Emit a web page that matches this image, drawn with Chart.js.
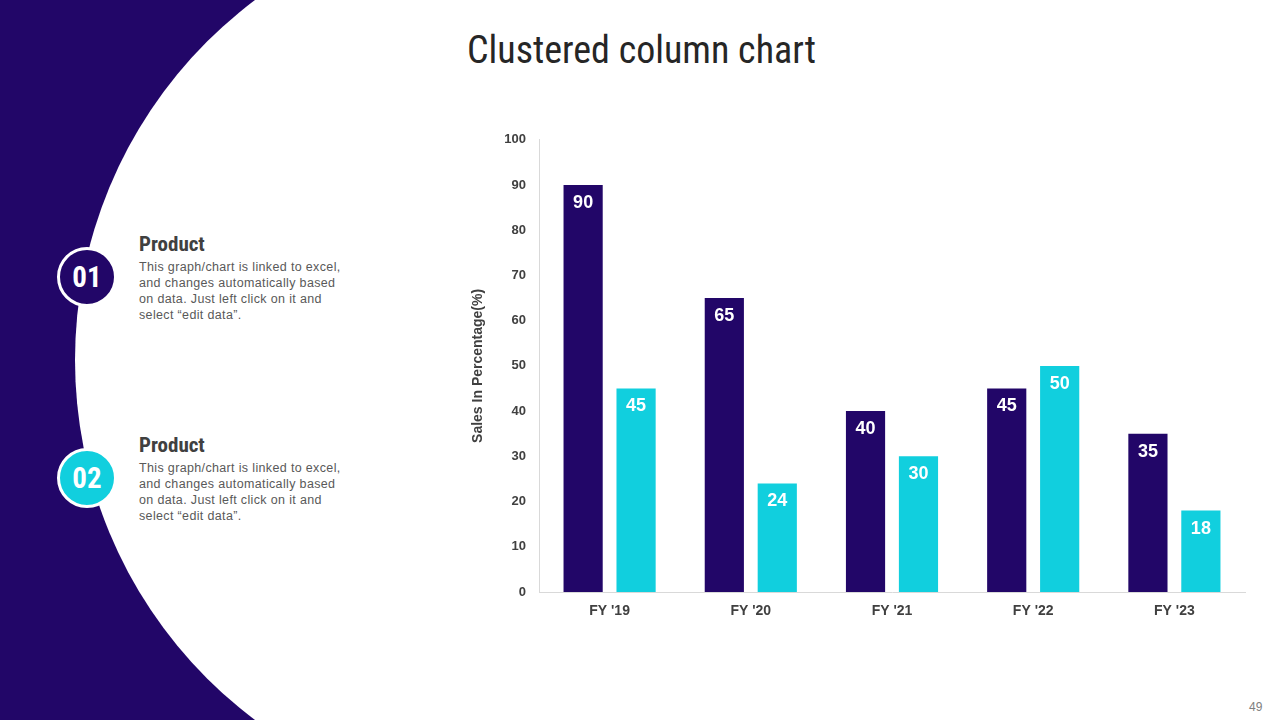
<!DOCTYPE html>
<html>
<head>
<meta charset="utf-8">
<script src="https://cdn.jsdelivr.net/npm/chart.js@4"></script>
<style>
  html, body { margin: 0; padding: 0; }
  body { width: 1280px; height: 720px; position: relative; overflow: hidden; background: #fff;
         font-family: "Liberation Sans", Arial, sans-serif; }
  .band { position: absolute; left: 0; top: 0; width: 300px; height: 720px; background: #220668; }
  .hole { position: absolute; left: 75px; top: -90px; width: 900px; height: 900px; border-radius: 50%; background: #fff; }
  .title { position: absolute; left: 467px; top: 28px; font-family: "Roboto Condensed", "Liberation Sans Narrow", Arial, sans-serif;
           font-size: 38px; color: #262626; white-space: nowrap; }
  .badge { position: absolute; width: 54px; height: 54px; border-radius: 50%; border: 3px solid #fff;
           color: #fff; font-family: "Roboto Condensed", "Liberation Sans Narrow", Arial, sans-serif; font-weight: bold; font-size: 29px;
           display: flex; align-items: center; justify-content: center; }
  .item { position: absolute; left: 139px; width: 230px; }
  .item h3 { margin: 0 0 4px 0; font-family: "Roboto Condensed", "Liberation Sans Narrow", Arial, sans-serif; font-weight: bold;
             font-size: 21px; color: #404040; line-height: 22px; }
  .item p { margin: 0; font-size: 12.5px; letter-spacing: 0.35px; line-height: 16px; color: #595959; white-space: nowrap; }
  .page { position: absolute; left: 1249px; top: 700px; font-size: 12px; color: #7f7f7f; }
  #chartBox { position: absolute; left: 460px; top: 127px; width: 800px; height: 498px; }
</style>
</head>
<body>
<div class="band"></div>
<div class="hole"></div>
<div class="title">Clustered column chart</div>

<div class="badge" style="left:57px; top:247px; background:#220668;">01</div>
<div class="item" style="top:233px;">
  <h3>Product</h3>
  <p>This graph/chart is linked to excel,<br>and changes automatically based<br>on data. Just left click on it and<br>select “edit data”.</p>
</div>

<div class="badge" style="left:57px; top:448px; background:#11cfde;">02</div>
<div class="item" style="top:434px;">
  <h3>Product</h3>
  <p>This graph/chart is linked to excel,<br>and changes automatically based<br>on data. Just left click on it and<br>select “edit data”.</p>
</div>

<div class="page">49</div>

<div id="chartBox"><canvas id="chart"></canvas></div>

<script>
// chart data
const years = ["FY '19", "FY '20", "FY '21", "FY '22", "FY '23"];
const series1 = [90, 65, 40, 45, 35];
const series2 = [45, 24, 30, 50, 18];
const yTicks = [0, 10, 20, 30, 40, 50, 60, 70, 80, 90, 100];

const DARK = "#220668";
const CYAN = "#11cfde";

Chart.defaults.font.family = '"Liberation Sans", Arial, sans-serif';
Chart.defaults.color = "#404040";

// white value labels just inside the top of each bar
const valueLabels = {
  id: "valueLabels",
  afterDatasetsDraw(chart) {
    const ctx = chart.ctx;
    ctx.save();
    ctx.font = 'bold 18px "Liberation Sans", Arial, sans-serif';
    ctx.fillStyle = "#fff";
    ctx.textAlign = "center";
    ctx.textBaseline = "middle";
    chart.data.datasets.forEach((ds, i) => {
      chart.getDatasetMeta(i).data.forEach((bar, j) => {
        ctx.fillText(ds.data[j], bar.x, bar.y + 18);
      });
    });
    ctx.restore();
  },
};

new Chart(document.getElementById("chart"), {
  type: "bar",
  data: {
    labels: years,
    datasets: [
      { label: "Series 1", data: series1, backgroundColor: DARK },
      { label: "Series 2", data: series2, backgroundColor: CYAN },
    ],
  },
  options: {
    responsive: true,
    maintainAspectRatio: false,
    animation: false,
    categoryPercentage: 0.75,
    barPercentage: 0.74,
    layout: { padding: { top: 8, right: 15, left: 0, bottom: 0 } },
    plugins: {
      legend: { display: false },
      tooltip: { enabled: false },
    },
    scales: {
      x: {
        grid: { display: false },
        border: { display: true, color: "#d9d9d9", width: 1 },
        ticks: { font: { size: 14, weight: "bold" }, color: "#404040", padding: 3 },
        afterFit: (s) => { s.height = 33; },
      },
      y: {
        min: 0,
        max: 100,
        afterBuildTicks: (s) => { s.ticks = yTicks.map((v) => ({ value: v })); },
        grid: { display: false },
        border: { display: true, color: "#d9d9d9", width: 1 },
        ticks: { font: { size: 13, weight: "bold" }, color: "#404040", padding: 5 },
        title: {
          display: true,
          text: "Sales In Percentage(%)",
          font: { size: 14, weight: "bold" },
          color: "#404040",
          padding: { top: 10, bottom: 0 },
        },
        afterFit: (s) => { s.width = 79; },
      },
    },
  },
  plugins: [valueLabels],
});
</script>
</body>
</html>
